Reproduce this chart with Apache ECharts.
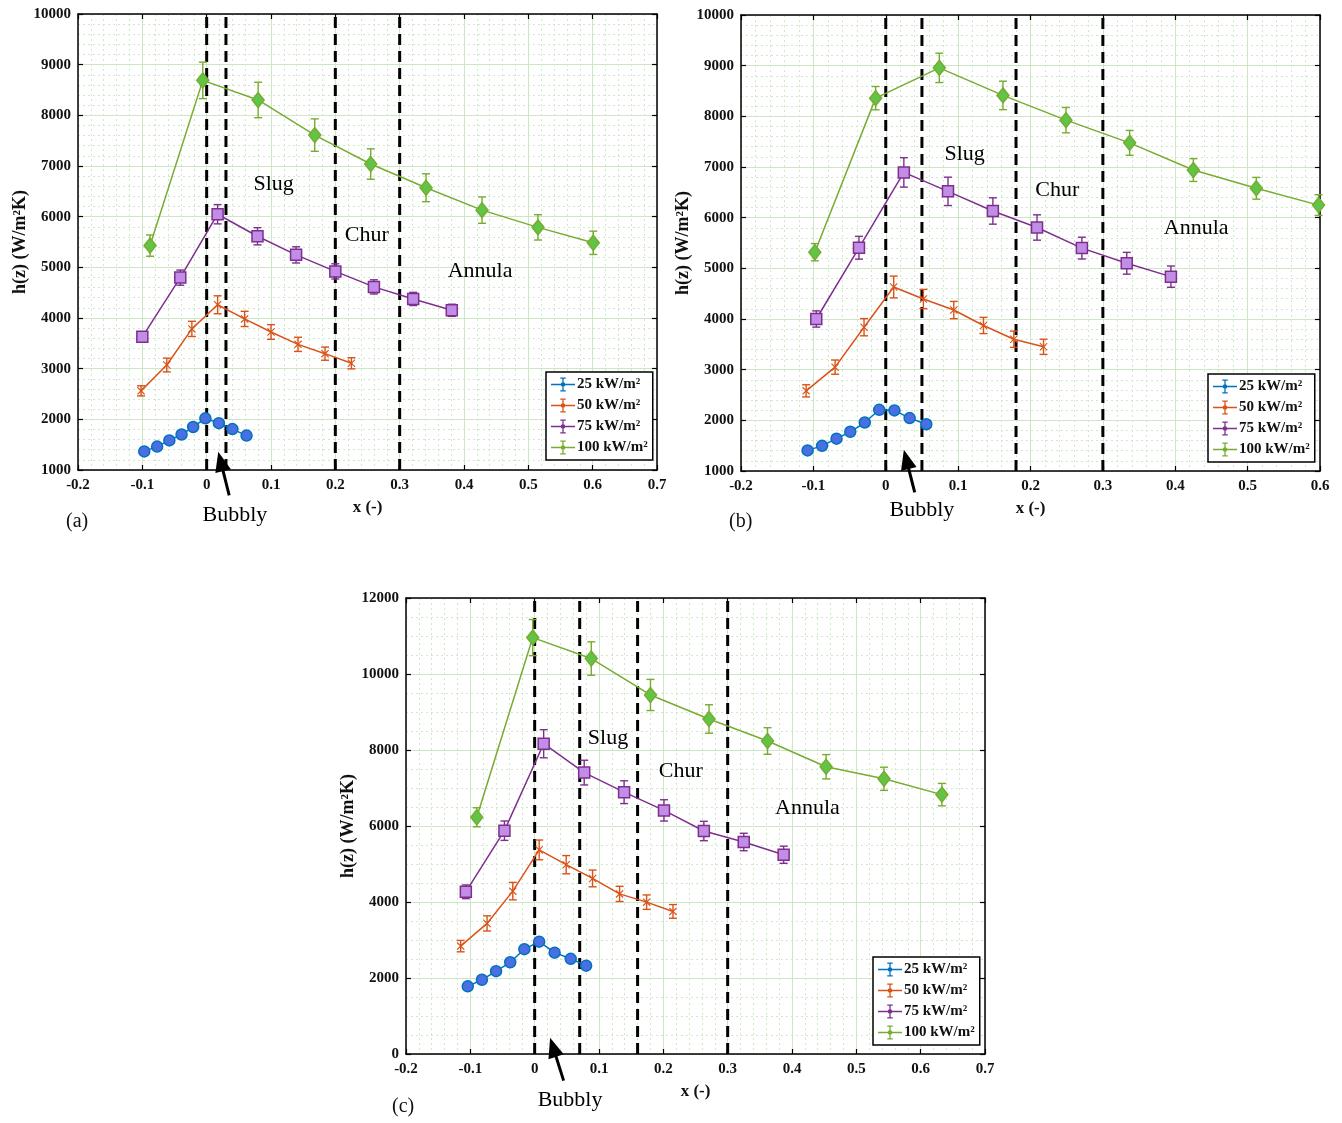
<!DOCTYPE html>
<html><head><meta charset="utf-8">
<script src="https://cdn.jsdelivr.net/npm/echarts@6/dist/echarts.min.js"></script>
<style>html,body{margin:0;padding:0;background:#fff}#c{width:1342px;height:1123px}</style>
</head><body><div id="c"></div>
<script>
// ---------- DATA ----------
const seriesNames = ['25 kW/m²', '50 kW/m²', '75 kW/m²', '100 kW/m²'];
const regimeNames = ['Slug', 'Chur', 'Annula'];
const xTickStep = 0.1;

// Panel (a)
const a25x = [-0.097, -0.077, -0.058, -0.039, -0.021, -0.002, 0.019, 0.040, 0.062];
const a25y = [1367, 1462, 1584, 1700, 1849, 2019, 1924, 1808, 1679];
const a25e = [40, 40, 40, 40, 40, 40, 40, 40, 40];
const a50x = [-0.102, -0.062, -0.023, 0.017, 0.059, 0.100, 0.142, 0.184, 0.225];
const a50y = [2562, 3072, 3785, 4261, 3982, 3724, 3480, 3296, 3106];
const a50e = [100, 136, 150, 177, 150, 145, 140, 130, 110];
const a75x = [-0.100, -0.041, 0.017, 0.079, 0.139, 0.200, 0.260, 0.321, 0.381];
const a75y = [3629, 4797, 6048, 5613, 5246, 4920, 4614, 4376, 4152];
const a75e = [100, 150, 190, 170, 160, 150, 140, 130, 120];
const a100x = [-0.088, -0.006, 0.080, 0.168, 0.255, 0.341, 0.428, 0.515, 0.601];
const a100y = [5429, 8690, 8303, 7610, 7039, 6571, 6129, 5789, 5484];
const a100e = [210, 360, 350, 320, 300, 275, 260, 250, 230];
const regimesA = [0, 0.03, 0.2, 0.3];
const regimeLabelsA = [[0.104, 6650], [0.249, 5640], [0.425, 4920]];
const bubblyA = [0.044, 110];
const arrowA = [[0.035, 500], [0.018, 1360]];

// Panel (b)
const b25x = [-0.108, -0.088, -0.068, -0.049, -0.029, -0.009, 0.012, 0.033, 0.056];
const b25y = [1407, 1496, 1638, 1774, 1957, 2208, 2195, 2045, 1923];
const b25e = [40, 40, 40, 40, 40, 40, 40, 40, 40];
const b50x = [-0.110, -0.070, -0.030, 0.011, 0.052, 0.094, 0.135, 0.177, 0.218];
const b50y = [2582, 3050, 3838, 4632, 4394, 4177, 3872, 3600, 3451];
const b50e = [120, 140, 170, 215, 190, 170, 160, 160, 150];
const b75x = [-0.096, -0.037, 0.025, 0.086, 0.148, 0.209, 0.271, 0.333, 0.394];
const b75y = [4000, 5406, 6893, 6519, 6132, 5806, 5399, 5100, 4836];
const b75e = [160, 225, 290, 280, 260, 250, 215, 215, 210];
const b100x = [-0.098, -0.014, 0.074, 0.162, 0.249, 0.337, 0.425, 0.512, 0.598];
const b100y = [5318, 8359, 8957, 8413, 7925, 7477, 6940, 6580, 6248];
const b100e = [170, 230, 290, 280, 250, 245, 225, 215, 205];
const regimesB = [0, 0.05, 0.18, 0.3];
const regimeLabelsB = [[0.109, 7260], [0.237, 6540], [0.429, 5790]];
const bubblyB = [0.050, 220];
const arrowB = [[0.040, 580], [0.025, 1420]];

// Panel (c)
const c25x = [-0.104, -0.082, -0.060, -0.038, -0.016, 0.007, 0.031, 0.056, 0.080];
const c25y = [1781, 1953, 2179, 2414, 2758, 2957, 2667, 2505, 2324];
const c25e = [60, 60, 60, 60, 60, 60, 60, 60, 60];
const c50x = [-0.115, -0.074, -0.034, 0.007, 0.049, 0.090, 0.132, 0.174, 0.215];
const c50y = [2839, 3436, 4286, 5371, 4982, 4620, 4213, 3996, 3752];
const c50e = [150, 200, 230, 260, 240, 220, 200, 190, 180];
const c75x = [-0.107, -0.047, 0.014, 0.077, 0.139, 0.201, 0.263, 0.325, 0.387];
const c75y = [4268, 5877, 8165, 7405, 6890, 6411, 5868, 5579, 5244];
const c75e = [180, 255, 370, 325, 300, 280, 255, 230, 225];
const c100x = [-0.090, -0.003, 0.088, 0.180, 0.271, 0.362, 0.453, 0.543, 0.633];
const c100y = [6230, 10958, 10407, 9448, 8816, 8237, 7559, 7242, 6826];
const c100e = [250, 475, 440, 410, 375, 350, 320, 305, 295];
const regimesC = [0, 0.07, 0.16, 0.3];
const regimeLabelsC = [[0.114, 8320], [0.227, 7450], [0.424, 6470]];
const bubblyC = [0.055, -1210];
const arrowC = [[0.045, -700], [0.024, 430]];

// ---------- STYLE ----------
const FONT = '"Liberation Serif", "Times New Roman", serif';
const lineColors = ['#0072BD', '#D95319', '#7E2F8E', '#77AC30'];
const fillColors = ['#4a6fe3', '#D95319', '#c28de6', '#62c446'];
const xMarker = 'path://M1,0L5,4L9,0L10,1L6,5L10,9L9,10L5,6L1,10L0,9L4,5L0,1Z';
const symbols = ['circle', xMarker, 'rect', 'diamond'];
const symbolSizes = [11, 8, 11, [12, 15]];
const legendIcon = 'path://M0,7.3H26V8.7H0Z M12.3,1H13.7V15H12.3Z M10,0.3H16V1.7H10Z M10,14.3H16V15.7H10Z M15.5,8A2.5,2.5,0,1,1,10.5,8A2.5,2.5,0,1,1,15.5,8Z';

const panels = [
  { grid: {left: 78, top: 14, width: 579, height: 456}, xMin: -0.2, xMax: 0.7, yMin: 1000, yMax: 10000, yInt: 1000, yMinor: 5,
    xs: [a25x, a50x, a75x, a100x], ys: [a25y, a50y, a75y, a100y], es: [a25e, a50e, a75e, a100e],
    regimes: regimesA, labels: regimeLabelsA, bubbly: bubblyA, arrow: arrowA,
    legend: {left: 546, top: 372}, tag: {left: 66, top: 512, text: '(a)'} },
  { grid: {left: 741, top: 15, width: 579, height: 456}, xMin: -0.2, xMax: 0.6, yMin: 1000, yMax: 10000, yInt: 1000, yMinor: 5,
    xs: [b25x, b50x, b75x, b100x], ys: [b25y, b50y, b75y, b100y], es: [b25e, b50e, b75e, b100e],
    regimes: regimesB, labels: regimeLabelsB, bubbly: bubblyB, arrow: arrowB,
    legend: {left: 1208, top: 374}, tag: {left: 729, top: 512, text: '(b)'} },
  { grid: {left: 406, top: 598, width: 579, height: 456}, xMin: -0.2, xMax: 0.7, yMin: 0, yMax: 12000, yInt: 2000, yMinor: 4,
    xs: [c25x, c50x, c75x, c100x], ys: [c25y, c50y, c75y, c100y], es: [c25e, c50e, c75e, c100e],
    regimes: regimesC, labels: regimeLabelsC, bubbly: bubblyC, arrow: arrowC,
    legend: {left: 873, top: 957}, tag: {left: 392, top: 1097, text: '(c)'} }
];

function fmtX(v) { const r = Math.round(v * 10) / 10; return r === 0 ? '0' : r.toFixed(1); }
function fmtY(v) { return String(Math.round(v)); }

function errRender(color) {
  return function (params, api) {
    const x = api.value(0), y = api.value(1), e = api.value(2);
    const p1 = api.coord([x, y + e]), p2 = api.coord([x, y - e]);
    const w = 4, style = {stroke: color, lineWidth: 1.4};
    return {type: 'group', children: [
      {type: 'line', shape: {x1: p1[0], y1: p1[1], x2: p2[0], y2: p2[1]}, style},
      {type: 'line', shape: {x1: p1[0] - w, y1: p1[1], x2: p1[0] + w, y2: p1[1]}, style},
      {type: 'line', shape: {x1: p2[0] - w, y1: p2[1], x2: p2[0] + w, y2: p2[1]}, style}
    ]};
  };
}

function makeTextRender(texts) {
  return function (params, api) {
    const p = api.coord([api.value(0), api.value(1)]);
    return {type: 'text', x: p[0], y: p[1],
      style: {text: texts[params.dataIndex], font: '22px ' + FONT, fill: '#000', align: 'center', verticalAlign: 'middle'}};
  };
}

function arrowRender(params, api) {
  const t = api.coord([api.value(0), api.value(1)]);
  const h = api.coord([api.value(2), api.value(3)]);
  const dx = h[0] - t[0], dy = h[1] - t[1], L = Math.sqrt(dx * dx + dy * dy);
  const ux = dx / L, uy = dy / L, nx = -uy, ny = ux;
  const hl = 20, hw = 8;
  const bx = h[0] - ux * hl, by = h[1] - uy * hl;
  return {type: 'group', children: [
    {type: 'line', shape: {x1: t[0], y1: t[1], x2: bx + ux * 2, y2: by + uy * 2}, style: {stroke: '#000', lineWidth: 3}},
    {type: 'polygon', shape: {points: [[h[0], h[1]], [bx + nx * hw, by + ny * hw], [bx - nx * hw, by - ny * hw]]}, style: {fill: '#000'}}
  ]};
}

const grids = [], xAxes = [], yAxes = [], series = [], legends = [], graphics = [];
const tickLabel = {fontFamily: FONT, fontWeight: 'bold', fontSize: 15, color: '#111'};

panels.forEach((p, i) => {
  grids.push(Object.assign({containLabel: false}, p.grid));
  const axLine = {show: true, onZero: false, lineStyle: {color: '#000', width: 1.5}};
  const tick = {inside: true, length: 5, lineStyle: {color: '#000', width: 1.2}};
  xAxes[i] = {
    type: 'value', gridIndex: i, min: p.xMin, max: p.xMax, interval: xTickStep, position: 'bottom',
    axisLine: axLine, axisTick: tick,
    axisLabel: Object.assign({formatter: fmtX, margin: 8}, tickLabel),
    splitLine: {show: true, lineStyle: {color: '#cde7c6', width: 1}},
    minorTick: {show: false, splitNumber: 5},
    minorSplitLine: {show: true, lineStyle: {color: '#d0e9ca', width: 1, type: [2, 3]}},
    name: 'x (-)', nameLocation: 'middle', nameGap: 29,
    nameTextStyle: {fontFamily: FONT, fontWeight: 'bold', fontSize: 17, color: '#111'}
  };
  xAxes[i + 3] = {
    type: 'value', gridIndex: i, min: p.xMin, max: p.xMax, interval: xTickStep, position: 'top',
    axisLine: axLine, axisTick: tick, axisLabel: {show: false}, splitLine: {show: false}
  };
  yAxes[i] = {
    type: 'value', gridIndex: i, min: p.yMin, max: p.yMax, interval: p.yInt, position: 'left',
    axisLine: axLine, axisTick: tick,
    axisLabel: Object.assign({formatter: fmtY, margin: 7}, tickLabel),
    splitLine: {show: true, lineStyle: {color: '#cde7c6', width: 1}},
    minorTick: {show: false, splitNumber: p.yMinor},
    minorSplitLine: {show: true, lineStyle: {color: '#d0e9ca', width: 1, type: [2, 3]}},
    name: 'h(z) (W/m²K)', nameLocation: 'middle', nameGap: 48, nameRotate: 90,
    nameTextStyle: {fontFamily: FONT, fontWeight: 'bold', fontSize: 18, color: '#111'}
  };
  yAxes[i + 3] = {
    type: 'value', gridIndex: i, min: p.yMin, max: p.yMax, interval: p.yInt, position: 'right',
    axisLine: axLine, axisTick: tick, axisLabel: {show: false}, splitLine: {show: false}
  };

  // regime dashed lines
  p.regimes.forEach(v => {
    series.push({type: 'line', xAxisIndex: i, yAxisIndex: i, silent: true, symbol: 'none', z: 2,
      data: [[v, p.yMin], [v, p.yMax]], lineStyle: {color: '#000', width: 3, type: [11, 6]}});
  });

  // data series
  for (let k = 0; k < 4; k++) {
    const xs = p.xs[k], ys = p.ys[k], es = p.es[k];
    series.push({
      type: 'custom', name: seriesNames[k], xAxisIndex: i, yAxisIndex: i, z: 3,
      renderItem: errRender(lineColors[k]), itemStyle: {color: lineColors[k]},
      data: xs.map((x, j) => [x, ys[j], es[j]]), encode: {x: 0, y: 1}
    });
    series.push({
      type: 'line', name: seriesNames[k], xAxisIndex: i, yAxisIndex: i, z: 4,
      data: xs.map((x, j) => [x, ys[j]]),
      symbol: symbols[k], symbolSize: symbolSizes[k], showAllSymbol: true,
      lineStyle: {color: lineColors[k], width: 1.5},
      itemStyle: {color: fillColors[k], borderColor: lineColors[k], borderWidth: k === 1 ? 0 : 1.5}
    });
  }

  // regime labels and Bubbly annotation
  const annPts = p.labels.concat([p.bubbly]);
  const annTexts = regimeNames.concat(['Bubbly']);
  series.push({
    type: 'custom', xAxisIndex: i, yAxisIndex: i, z: 6, clip: false, silent: true,
    renderItem: makeTextRender(annTexts), data: annPts, encode: {x: 0, y: 1}
  });
  series.push({
    type: 'custom', xAxisIndex: i, yAxisIndex: i, z: 6, clip: false, silent: true,
    renderItem: arrowRender, data: [[p.arrow[0][0], p.arrow[0][1], p.arrow[1][0], p.arrow[1][1]]],
    encode: {x: [0, 2], y: [1, 3]}
  });

  legends.push({
    left: p.legend.left, top: p.legend.top, orient: 'vertical', selectedMode: false,
    data: seriesNames.map((n, k) => ({name: n, itemStyle: {color: lineColors[k], borderWidth: 0}})),
    icon: legendIcon, itemWidth: 24, itemHeight: 16, itemGap: 6,
    padding: [5, 5, 5, 5], borderColor: '#000', borderWidth: 1.5, borderRadius: 0, backgroundColor: '#fff',
    textStyle: {fontFamily: FONT, fontWeight: 'bold', fontSize: 15, color: '#111', padding: [0, 0, 0, -3]},
    z: 10
  });

  graphics.push({type: 'text', left: p.tag.left, top: p.tag.top,
    style: {text: p.tag.text, font: '20px ' + FONT, fill: '#111'}});
});

const chart = echarts.init(document.getElementById('c'), null, {renderer: 'canvas'});
chart.setOption({
  animation: false,
  backgroundColor: '#fff',
  grid: grids, xAxis: xAxes, yAxis: yAxes,
  legend: legends, series: series, graphic: graphics
});
</script></body></html>
